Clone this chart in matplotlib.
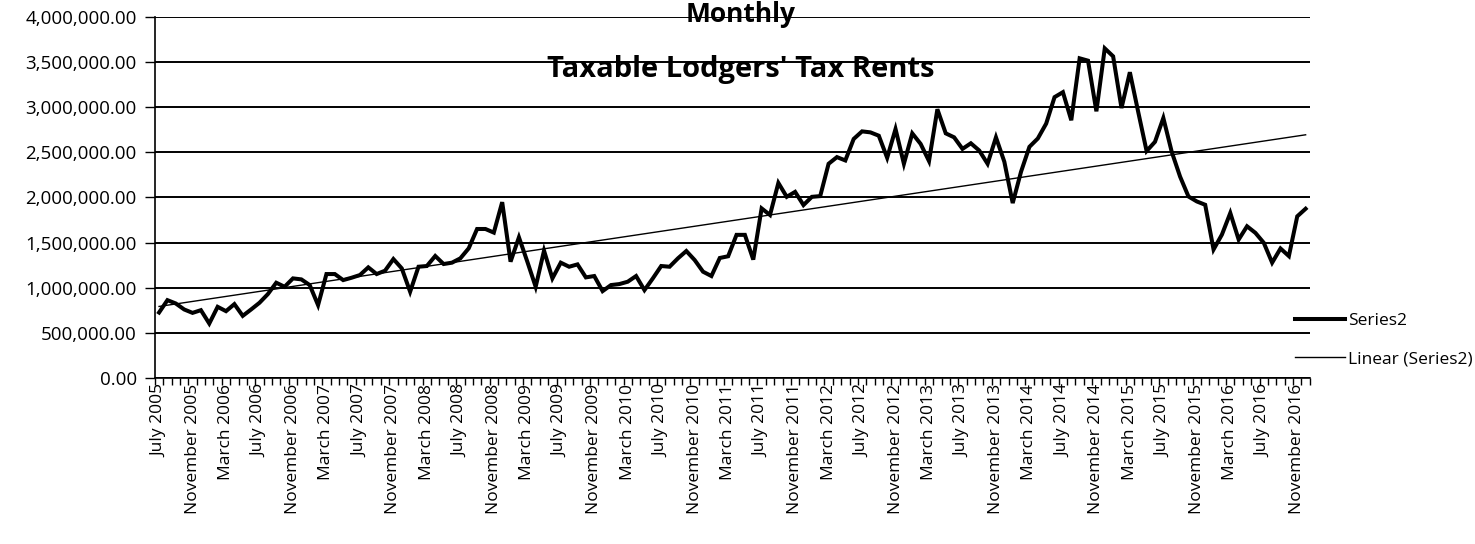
import matplotlib
matplotlib.use("Agg")
import matplotlib.pyplot as plt
import numpy as np
from matplotlib.ticker import FixedLocator, FuncFormatter

plt.rcParams['font.family'] = ['Open Sans', 'DejaVu Sans']

months = ["January", "February", "March", "April", "May", "June", "July",
          "August", "September", "October", "November", "December"]

# Monthly taxable lodgers' tax rents, July 2005 .. December 2016
rents = [
    726000, 863000, 826000, 760000, 722000, 752000, 604000, 789000, 741000, 819000,
    689000, 760000, 834000, 930000, 1056000, 1011000, 1104000, 1093000, 1030000, 808000,
    1152000, 1152000, 1085000, 1111000, 1141000, 1226000, 1152000, 1189000, 1318000, 1215000,
    956000, 1233000, 1241000, 1352000, 1263000, 1278000, 1326000, 1437000, 1651000, 1651000,
    1611000, 1948000, 1289000, 1559000, 1290000, 1011000, 1411000, 1104000, 1278000, 1233000,
    1259000, 1115000, 1130000, 963000, 1030000, 1041000, 1067000, 1130000, 974000, 1104000,
    1241000, 1233000, 1326000, 1407000, 1307000, 1178000, 1130000, 1330000, 1349000, 1586000,
    1586000, 1312000, 1879000, 1806000, 2161000, 2007000, 2062000, 1916000, 2007000, 2015000,
    2373000, 2447000, 2410000, 2648000, 2732000, 2721000, 2684000, 2439000, 2758000, 2373000,
    2710000, 2593000, 2403000, 2977000, 2710000, 2666000, 2538000, 2600000, 2520000, 2373000,
    2666000, 2396000, 1938000, 2286000, 2561000, 2653000, 2818000, 3111000, 3166000, 2855000,
    3541000, 3515000, 2954000, 3651000, 3563000, 2990000, 3387000, 2946000, 2514000, 2616000,
    2880000, 2506000, 2231000, 2011000, 1956000, 1919000, 1424000, 1589000, 1828000, 1534000,
    1681000, 1608000, 1498000, 1278000, 1435000, 1351000, 1791000, 1875000,
]

start_year, start_month = 2005, 7
n = len(rents)
categories = []
for k in range(n):
    m = (start_month - 1 + k) % 12
    y = start_year + (start_month - 1 + k) // 12
    categories.append(f"{months[m]} {y}")

label_step = 4
y_ticks = [0, 500000, 1000000, 1500000, 2000000, 2500000, 3000000, 3500000, 4000000]

x = np.arange(n)
vals = np.array(rents, dtype=float)
coef = np.polyfit(x, vals, 1)
trend = np.polyval(coef, x)

fig = plt.figure(figsize=(14.75, 5.44), dpi=100)
ax = fig.add_axes([0.105, 0.305, 0.783, 0.664])

for yt in y_ticks:
    ax.axhline(yt, color='black', lw=1.4, zorder=1)

ax.plot(x, vals, color='black', lw=2.9, solid_joinstyle='miter', label='Series2', zorder=3)
ax.plot(x, trend, color='black', lw=1.0, label='Linear (Series2)', zorder=2)

ax.set_xlim(-0.5, n - 0.5)
ax.set_ylim(0, 4000000)
ax.yaxis.set_major_locator(FixedLocator(y_ticks))
ax.yaxis.set_major_formatter(FuncFormatter(lambda v, p: f"{v:,.2f}"))
ax.set_xticks(x[::label_step])
ax.set_xticklabels(categories[::label_step], rotation=90, fontsize=12.5)
ax.set_xticks(np.arange(-0.5, n, 1), minor=True)
ax.tick_params(axis='x', which='major', length=0, pad=4)
ax.tick_params(axis='x', which='minor', length=5, width=1, direction='out')
ax.tick_params(axis='y', length=7, width=1, labelsize=13.5, pad=6)

for s in ['top', 'right']:
    ax.spines[s].set_visible(False)
ax.spines['left'].set_linewidth(1.2)
ax.spines['bottom'].set_linewidth(1.2)

fig.text(0.502, 0.973, "Monthly", ha='center', va='center', fontsize=19, fontweight='bold')
fig.text(0.502, 0.873, "Taxable Lodgers' Tax Rents", ha='center', va='center', fontsize=21, fontweight='bold')

leg = ax.legend(loc='center left', bbox_to_anchor=(0.981, 0.105), frameon=False,
                fontsize=12.5, handlelength=2.9, labelspacing=1.25, handletextpad=0.15,
                borderaxespad=0)

fig.savefig("out.png", dpi=100)
